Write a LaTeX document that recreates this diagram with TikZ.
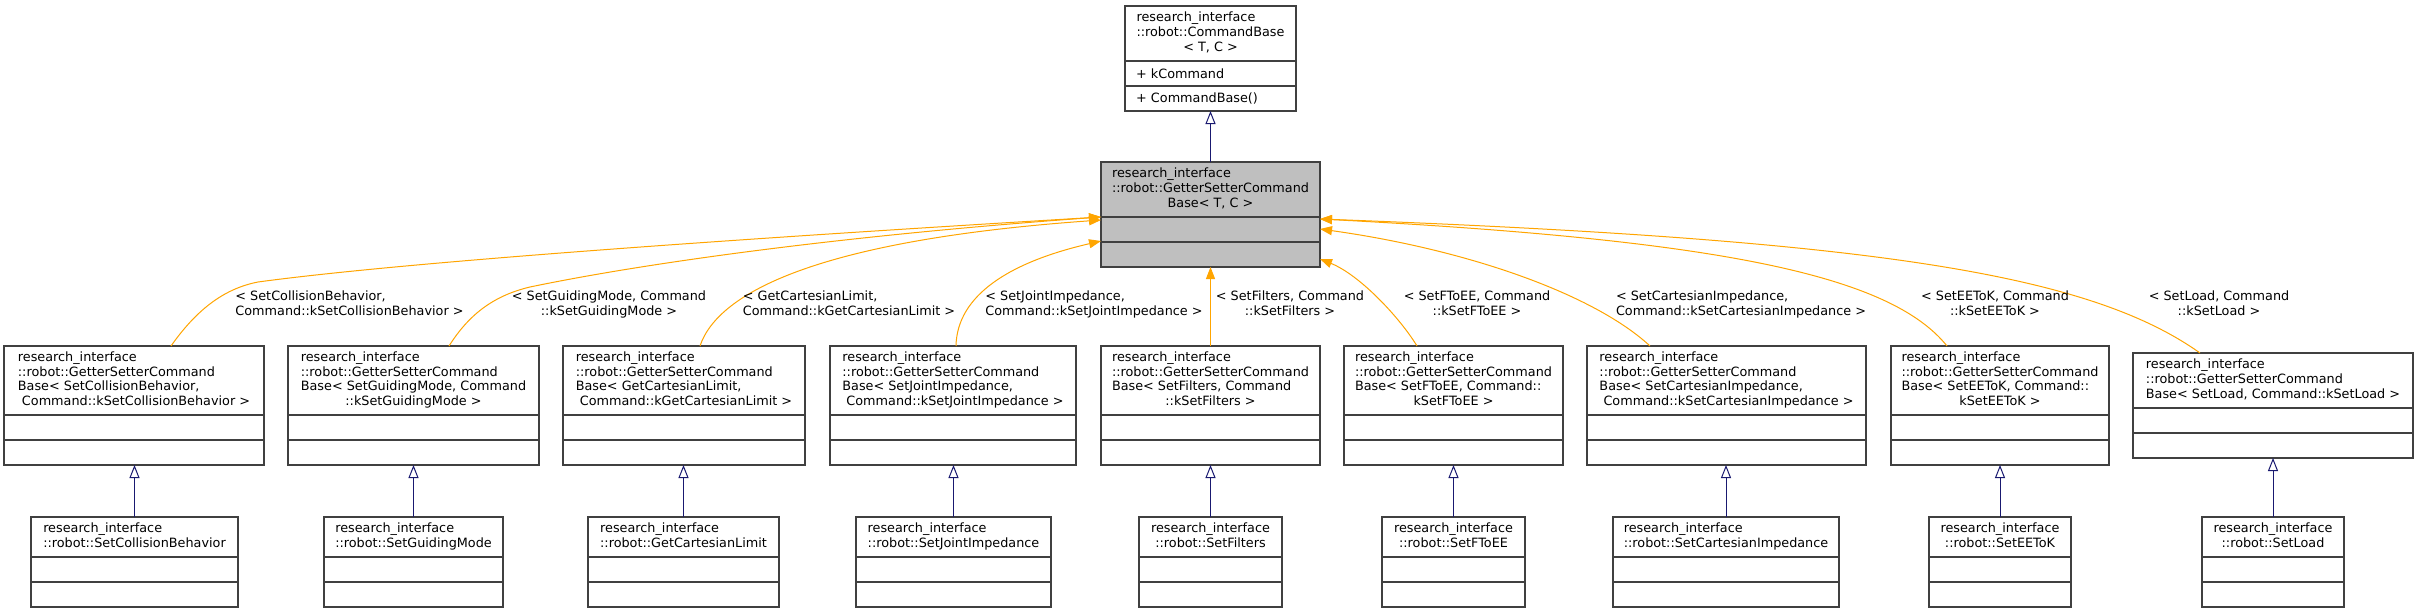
\documentclass[tikz,border=0pt]{standalone}
\usepackage{fontspec}
\setmainfont{DejaVu Sans}
\usetikzlibrary{arrows.meta,calc}
\definecolor{boxc}{HTML}{404040}
\definecolor{grayfill}{HTML}{BFBFBF}
\definecolor{navy}{HTML}{191970}
\definecolor{orng}{HTML}{FFA500}
\newcommand{\hd}[2]{\begin{tabular}{@{}l@{}}#1\multicolumn{1}{@{}c@{}}{#2}\end{tabular}}
\newcommand{\umlbox}[7][white]{%
  \node[hdr,fill=#1,minimum width=#5pt,minimum height=#6pt,anchor=north west] (#2) at (#3,#4) {#7};
  \draw[boxln,fill=#1] (#2.south west) rectangle ++(#5,25);
  \draw[boxln,fill=#1] ([yshift=-25pt]#2.south west) rectangle ++(#5,25);
  \coordinate (#2-b) at ([yshift=-50pt]#2.south);
}
\tikzset{
  hdr/.style={draw=boxc, line width=1.4pt, inner sep=0pt, outer sep=0pt, font=\fontsize{12.8}{14.6}\selectfont},
  boxln/.style={draw=boxc, line width=1.4pt},
  lbl/.style={inner sep=0pt, font=\fontsize{12.8}{14.6}\selectfont},
  inh/.style={draw=navy, line width=1pt, -{Triangle[open,length=13pt,width=10pt]}},
  tmpl/.style={draw=orng, line width=1pt, -{Triangle[length=12pt,width=9pt]}},
}
\begin{document}
\begin{tikzpicture}[x=1pt,y=-1pt]
\useasboundingbox (0,0) rectangle (2418,613);
\fill[white] (0,0) rectangle (2418,613);

% top classes
\umlbox{cb}{1125}{6}{171}{55}{\hd{research\_interface\\::robot::CommandBase\\}{< T, C >}}
\node[lbl,anchor=west] (cbm1) at ($(cb.south west)+(11,12.5)$) {+ kCommand};
\node[lbl,anchor=west] (cbm2) at ($(cb.south west)+(11,37.5)$) {+ CommandBase()};
\umlbox[grayfill]{gs}{1101}{162}{219}{55}{\hd{research\_interface\\::robot::GetterSetterCommand\\}{Base< T, C >}}

% template instances
\umlbox{b1}{4}{346}{260}{69}{\hd{research\_interface\\::robot::GetterSetterCommand\\Base< SetCollisionBehavior,\\}{\ Command::kSetCollisionBehavior >}}
\umlbox{b2}{288}{346}{251}{69}{\hd{research\_interface\\::robot::GetterSetterCommand\\Base< SetGuidingMode, Command\\}{::kSetGuidingMode >}}
\umlbox{b3}{563}{346}{242}{69}{\hd{research\_interface\\::robot::GetterSetterCommand\\Base< GetCartesianLimit,\\}{\ Command::kGetCartesianLimit >}}
\umlbox{b4}{830}{346}{246}{69}{\hd{research\_interface\\::robot::GetterSetterCommand\\Base< SetJointImpedance,\\}{\ Command::kSetJointImpedance >}}
\umlbox{b5}{1101}{346}{219}{69}{\hd{research\_interface\\::robot::GetterSetterCommand\\Base< SetFilters, Command\\}{::kSetFilters >}}
\umlbox{b6}{1344}{346}{219}{69}{\hd{research\_interface\\::robot::GetterSetterCommand\\Base< SetFToEE, Command::\\}{kSetFToEE >}}
\umlbox{b7}{1587}{346}{279}{69}{\hd{research\_interface\\::robot::GetterSetterCommand\\Base< SetCartesianImpedance,\\}{\ Command::kSetCartesianImpedance >}}
\umlbox{b8}{1891}{346}{218}{69}{\hd{research\_interface\\::robot::GetterSetterCommand\\Base< SetEEToK, Command::\\}{kSetEEToK >}}
\umlbox{b9}{2133}{353}{280}{55}{\hd{research\_interface\\::robot::GetterSetterCommand\\}{Base< SetLoad, Command::kSetLoad >}}

% concrete classes
\umlbox{c1}{31}{517}{207}{40}{\hd{research\_interface\\}{::robot::SetCollisionBehavior}}
\umlbox{c2}{324}{517}{179}{40}{\hd{research\_interface\\}{::robot::SetGuidingMode}}
\umlbox{c3}{588}{517}{191}{40}{\hd{research\_interface\\}{::robot::GetCartesianLimit}}
\umlbox{c4}{856}{517}{195}{40}{\hd{research\_interface\\}{::robot::SetJointImpedance}}
\umlbox{c5}{1139}{517}{143}{40}{\hd{research\_interface\\}{::robot::SetFilters}}
\umlbox{c6}{1382}{517}{143}{40}{\hd{research\_interface\\}{::robot::SetFToEE}}
\umlbox{c7}{1613}{517}{226}{40}{\hd{research\_interface\\}{::robot::SetCartesianImpedance}}
\umlbox{c8}{1929}{517}{142}{40}{\hd{research\_interface\\}{::robot::SetEEToK}}
\umlbox{c9}{2202}{517}{142}{40}{\hd{research\_interface\\}{::robot::SetLoad}}

% inheritance
\draw[inh] (gs.north) -- (gs.north |- cb-b);
\foreach \i in {1,...,9} {
  \draw[inh] (c\i.north) -- (c\i.north |- b\i-b);
}

% template instantiation edges
\draw[tmpl] ($(b1.north west)+(167,0)$) .. controls (195,312) and (222,289) .. (258,282)
  .. controls (420,260) and (800,235) .. (gs.south west);
\draw[tmpl] ($(b2.north west)+(161,0)$) .. controls (468,316) and (492,296) .. (530,287)
  .. controls (650,262) and (850,235) .. (gs.south west);
\draw[tmpl] ($(b3.north west)+(137,0)$) .. controls (718,292) and (820,240) .. ($(gs.south west)+(0,3)$);
\draw[tmpl] ($(b4.north west)+(126,0)$) .. controls (957,295) and (1010,262) .. ($(gs.south west)+(0,24)$);
\draw[tmpl] (b5.north) -- (gs-b);
\draw[tmpl] ($(b6.north west)+(73,0)$) .. controls (1400,318) and (1360,275) .. ($(gs.south east)+(0,42)$);
\draw[tmpl] ($(b7.north west)+(63,0)$) .. controls (1595,295) and (1470,250) .. ($(gs.south east)+(0,12)$);
\draw[tmpl] ($(b8.north west)+(56,0)$) .. controls (1890,275) and (1720,240) .. ($(gs.south east)+(0,2)$);
\draw[tmpl] ($(b9.north west)+(67,0)$) .. controls (2090,275) and (1880,240) .. ($(gs.south east)+(0,2)$);

% edge labels
\node[lbl] (l1) at (349.5,305) {\hd{< SetCollisionBehavior,\\}{Command::kSetCollisionBehavior >}};
\node[lbl] (l2) at (609,305) {\hd{< SetGuidingMode, Command\\}{::kSetGuidingMode >}};
\node[lbl] (l3) at (849,305) {\hd{< GetCartesianLimit,\\}{Command::kGetCartesianLimit >}};
\node[lbl] (l4) at (1094,305) {\hd{< SetJointImpedance,\\}{Command::kSetJointImpedance >}};
\node[lbl] (l5) at (1290,305) {\hd{< SetFilters, Command\\}{::kSetFilters >}};
\node[lbl] (l6) at (1477,305) {\hd{< SetFToEE, Command\\}{::kSetFToEE >}};
\node[lbl] (l7) at (1741,305) {\hd{< SetCartesianImpedance,\\}{Command::kSetCartesianImpedance >}};
\node[lbl] (l8) at (1995,305) {\hd{< SetEEToK, Command\\}{::kSetEEToK >}};
\node[lbl] (l9) at (2219,305) {\hd{< SetLoad, Command\\}{::kSetLoad >}};
\end{tikzpicture}
\end{document}
